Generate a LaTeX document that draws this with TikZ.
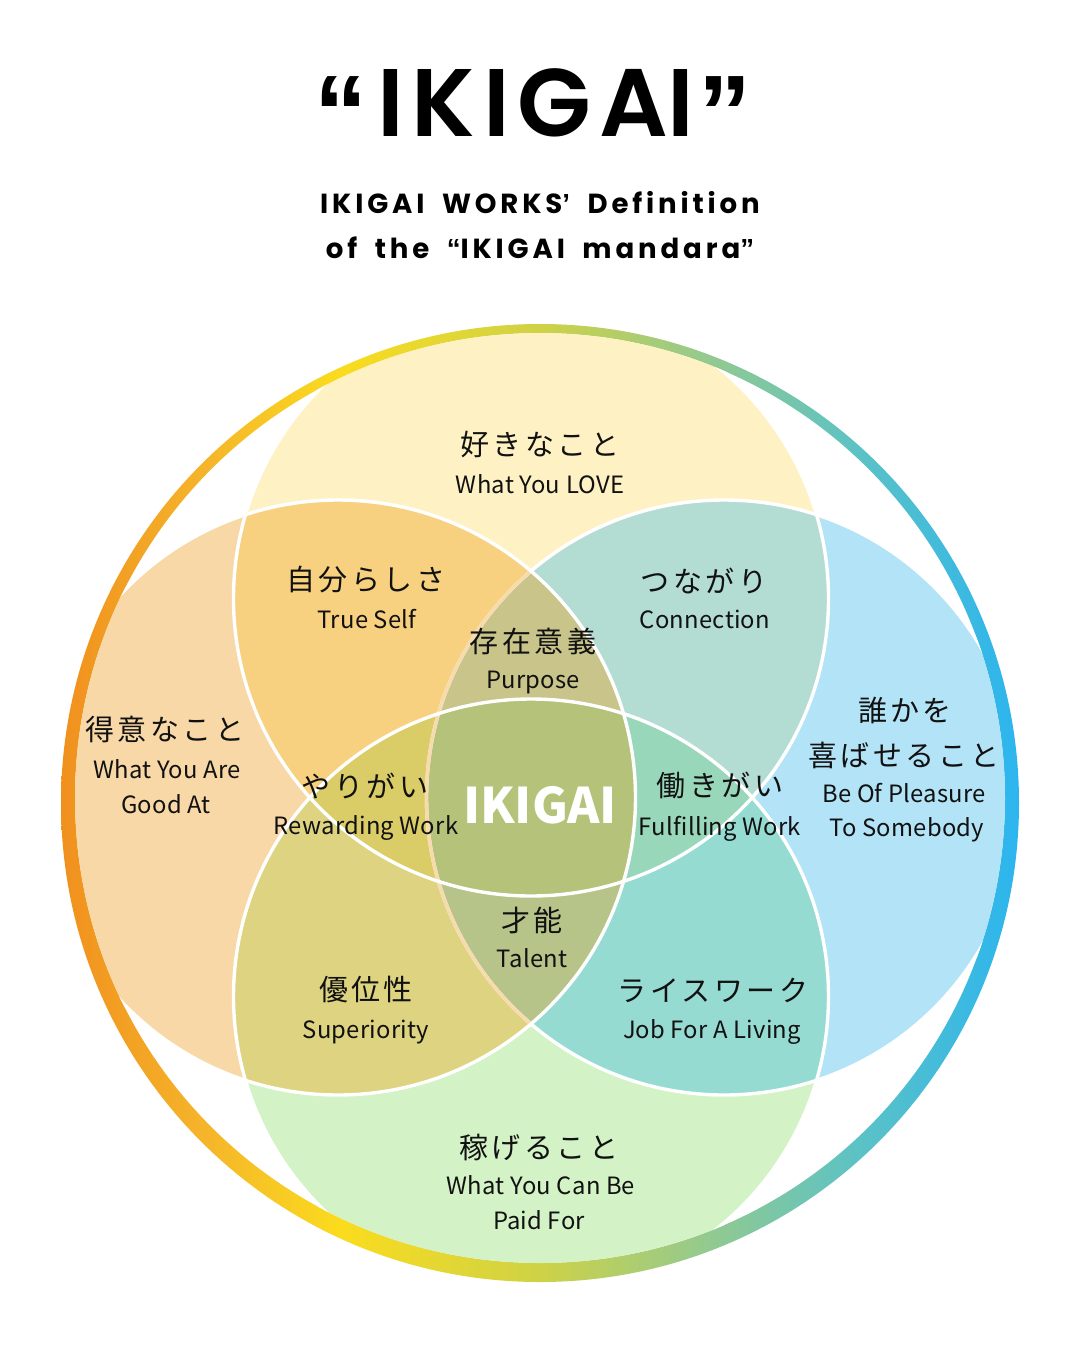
\documentclass[tikz,border=0pt]{standalone}
\usepackage{fontspec}
\newfontfamily\popfont{Poppins}
\newfontfamily\subfont{Poppins}[LetterSpace=14,WordSpace=1.8]
\IfFontExistsTF{Poppins SemiBold}{\newfontfamily\titlefont{Poppins SemiBold}}{\newcommand{\titlefont}{\popfont\bfseries}}
\newfontfamily\quotefont{Liberation Sans}
\newfontfamily\jpfont{Noto Sans CJK JP}[LetterSpace=12]
\newfontfamily\enfont{Noto Sans CJK JP}[LetterSpace=1]
\newfontfamily\ikfont{Noto Sans CJK JP}
\newcommand{\qopen}{{\quotefont\bfseries “}}
\newcommand{\qclose}{{\quotefont\bfseries ”}}
\newcommand{\qapos}{{\quotefont\bfseries ’}}
\newcommand{\bigqopen}{{\quotefont\bfseries\fontsize{53}{53}\selectfont\raisebox{-6.5pt}{“}}}
\newcommand{\bigqclose}{{\quotefont\bfseries\fontsize{53}{53}\selectfont\raisebox{-6.5pt}{”}}}
\definecolor{cT}{HTML}{FEF2C5}
\definecolor{cL}{HTML}{F8D8A6}
\definecolor{cR}{HTML}{B2E3F6}
\definecolor{cB}{HTML}{D3F2C6}
\definecolor{cTL}{HTML}{F7D17F}
\definecolor{cTR}{HTML}{B3DCD3}
\definecolor{cBL}{HTML}{DDD381}
\definecolor{cBR}{HTML}{96DBD2}
\definecolor{cTLR}{HTML}{C8C48A}
\definecolor{cTBL}{HTML}{DACC66}
\definecolor{cTBR}{HTML}{98D7BA}
\definecolor{cBLR}{HTML}{B6C48A}
\definecolor{cALL}{HTML}{B4C27A}
\definecolor{cLine}{HTML}{F7DBAD}
\definecolor{txt}{HTML}{111111}
\definecolor{rg0}{HTML}{F0901E}
\definecolor{rg1}{HTML}{F5B42A}
\definecolor{rg2}{HTML}{FADC1E}
\definecolor{rg3}{HTML}{CED246}
\definecolor{rg4}{HTML}{96CA8C}
\definecolor{rg5}{HTML}{5BC2C6}
\definecolor{rg6}{HTML}{2BB5EF}
\pgfdeclarehorizontalshading{ringshade}{100bp}{color(0bp)=(rg0); color(25bp)=(rg0); color(32.3bp)=(rg1); color(39.6bp)=(rg2); color(50bp)=(rg3); color(58.3bp)=(rg4); color(66.7bp)=(rg5); color(75bp)=(rg6); color(100bp)=(rg6)}
\tikzset{
  jp/.style={font=\jpfont\fontsize{14.5}{16}\selectfont, inner sep=0pt, text=txt},
  en/.style={font=\enfont\fontsize{11.9}{14}\selectfont, inner sep=0pt, anchor=base, text=txt},
  sub/.style={font=\subfont\bfseries\fontsize{13.8}{15}\selectfont, inner sep=0pt, anchor=base, text=black},
  wline/.style={draw=white, line width=1.7pt},
  pline/.style={draw=cLine, line width=1.7pt},
}
\begin{document}
\begin{tikzpicture}[x=0.5pt,y=-0.5pt]
\useasboundingbox (0,0) rectangle (1080,1350);
\fill[white] (0,0) rectangle (1080,1350);
\def\rr{297.5}
\coordinate (T) at (531,598.5);
\coordinate (B) at (531,996.5);
\coordinate (L) at (338,797.5);
\coordinate (R) at (724,797.5);
\coordinate (ringc) at (540,803);
\coordinate (innerc) at (540,798);
% gradient ring
\shade[shading=ringshade, even odd rule] (ringc) circle (479) (innerc) circle (465);
% coloured regions
\begin{scope}
  \clip (innerc) circle (465);
  \fill[cT] (T) circle (\rr);
  \fill[cL] (L) circle (\rr);
  \fill[cR] (R) circle (\rr);
  \fill[cB] (B) circle (\rr);
  \begin{scope}\clip (T) circle (\rr); \fill[cTL] (L) circle (\rr); \fill[cTR] (R) circle (\rr); \end{scope}
  \begin{scope}\clip (B) circle (\rr); \fill[cBL] (L) circle (\rr); \fill[cBR] (R) circle (\rr); \end{scope}
  \begin{scope}\clip (T) circle (\rr); \clip (L) circle (\rr); \fill[cTLR] (R) circle (\rr); \end{scope}
  \begin{scope}\clip (T) circle (\rr); \clip (B) circle (\rr); \fill[cTBL] (L) circle (\rr); \fill[cTBR] (R) circle (\rr); \end{scope}
  \begin{scope}\clip (B) circle (\rr); \clip (L) circle (\rr); \fill[cBLR] (R) circle (\rr); \end{scope}
  \begin{scope}\clip (T) circle (\rr); \clip (B) circle (\rr); \clip (L) circle (\rr); \fill[cALL] (R) circle (\rr); \end{scope}
  % outlines
  \draw[wline] (R) circle (\rr);
  \begin{scope}\clip (L) circle (\rr); \draw[pline] (R) circle (\rr); \end{scope}
  \draw[wline] (L) circle (\rr);
  \draw[wline] (T) circle (\rr);
  \draw[wline] (B) circle (\rr);
\end{scope}
% titles
\node[font=\titlefont\fontsize{48}{50}\selectfont, inner sep=0pt, anchor=base, text=black] (title) at (533,136)
  {\bigqopen\kern5pt{\addfontfeatures{LetterSpace=8}IKIGA}I\kern2pt\bigqclose};
\node[sub] (sub1) at (540,213) {IKIGAI WORKS\qapos\ Definition};
\node[sub] (sub2) at (540,258) {of the \qopen IKIGAI mandara\qclose};
% labels
\node[jp] (love) at (540,444) {好きなこと};
\node[en] (lovee) at (540,493) {What You LOVE};
\node[jp] (self) at (366,580) {自分らしさ};
\node[en] (selfe) at (367,628) {True Self};
\node[jp] (conn) at (704,581) {つながり};
\node[en] (conne) at (705,628) {Connection};
\node[jp] (purp) at (533,641) {存在意義};
\node[en] (purpe) at (533,688) {Purpose};
\node[jp] (good) at (165,729) {得意なこと};
\node[en] (goode1) at (167,778) {What You Are};
\node[en] (goode2) at (166,813) {Good At};
\node[jp] (plea1) at (905,710) {誰かを};
\node[jp] (plea2) at (904,755) {喜ばせること};
\node[en] (pleae1) at (904,802) {Be Of Pleasure};
\node[en] (pleae2) at (907,836) {To Somebody};
\node[jp] (rew) at (365,786) {やりがい};
\node[en] (rewe) at (366,834) {Rewarding Work};
\node[font=\ikfont\bfseries\fontsize{24.5}{28}\selectfont, inner sep=0pt, anchor=base, text=white] (ikigai) at (540,823) {IKIGAI};
\node[jp] (ful) at (720,785) {働きがい};
\node[en] (fule) at (720,835) {Fulfilling Work};
\node[jp] (tal) at (532,920) {才能};
\node[en] (tale) at (532,967) {Talent};
\node[jp] (sup) at (366,990) {優位性};
\node[en] (supe) at (366,1038) {Superiority};
\node[jp] (job) at (713,990) {ライスワーク};
\node[en] (jobe) at (712,1038) {Job For A Living};
\node[jp] (paid) at (539,1147) {稼げること};
\node[en] (paide1) at (541,1194) {What You Can Be};
\node[en] (paide2) at (539,1229) {Paid For};
\end{tikzpicture}
\end{document}
